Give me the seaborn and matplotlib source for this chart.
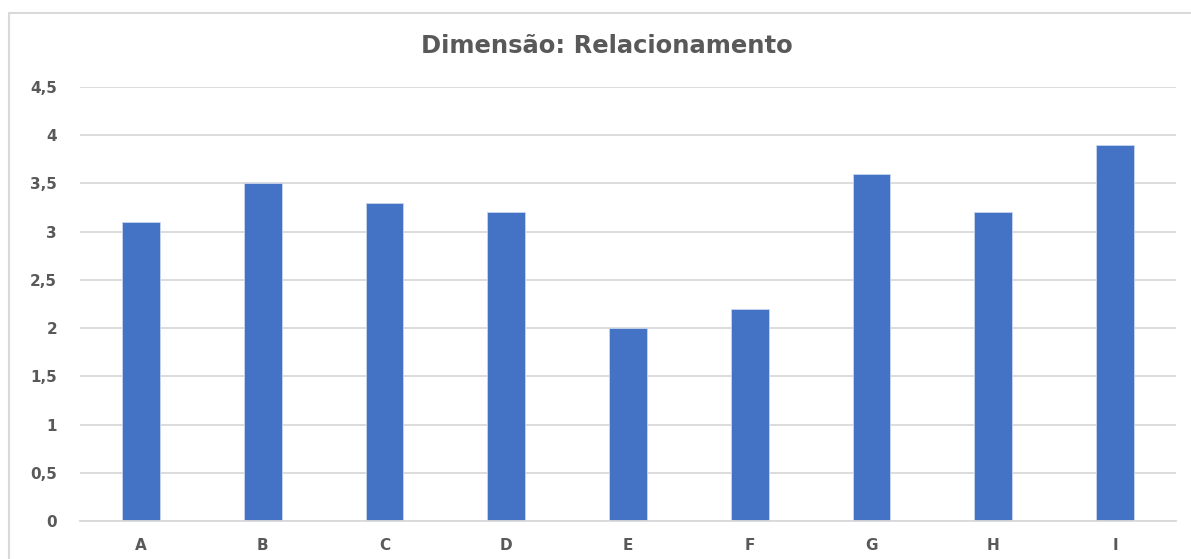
import matplotlib
matplotlib.use("Agg")
import matplotlib.pyplot as plt
import seaborn as sns
import pandas as pd
from matplotlib.patches import Rectangle
from matplotlib.ticker import FuncFormatter

categories = ["A", "B", "C", "D", "E", "F", "G", "H", "I"]
values = [3.1, 3.5, 3.3, 3.2, 2.0, 2.2, 3.6, 3.2, 3.9]
yticks = [0, 0.5, 1, 1.5, 2, 2.5, 3, 3.5, 4, 4.5]
title = "Dimensão: Relacionamento"

sns.set_theme(style="white")
plt.rcParams['font.family'] = ['DejaVu Sans']

df = pd.DataFrame({"cat": categories, "val": values})

fig = plt.figure(figsize=(11.91, 5.59), dpi=100)
ax = fig.add_axes([80/1191, 1-521/559, (1176-80)/1191, (521-87)/559])

sns.barplot(data=df, x="cat", y="val", color="#4472C4", saturation=1,
            width=0.31, ax=ax, edgecolor="#c9d6ee", linewidth=0.6)

ax.set_ylim(0, 4.5)
ax.set_xlim(-0.5, len(categories) - 0.5)
ax.set_yticks(yticks)
ax.yaxis.set_major_formatter(FuncFormatter(lambda v, p: ("%g" % v).replace(".", ",")))
ax.grid(axis="y", color="#d9d9d9", linewidth=1.3)
ax.set_axisbelow(True)
for s in ["top", "right", "left"]:
    ax.spines[s].set_visible(False)
ax.spines["bottom"].set_color("#d9d9d9")
ax.spines["bottom"].set_linewidth(1.3)
ax.set_xlabel("")
ax.set_ylabel("")
ax.tick_params(axis="both", length=0, labelsize=11, labelcolor="#595959")
ax.tick_params(axis="y", pad=16.5)
ax.tick_params(axis="x", pad=12)
for lbl in ax.get_xticklabels() + ax.get_yticklabels():
    lbl.set_fontweight("bold")

fig.text(607/1191, 1-46/559, title, ha="center", va="center",
         fontsize=17.5, fontweight="bold", color="#595959")

fig.patches.append(Rectangle((9/1191, -0.1), 1.2, 1 - 13/559 + 0.1,
                             transform=fig.transFigure, fill=False,
                             edgecolor="#d9d9d9", linewidth=1.5))

fig.savefig("out.png", dpi=100)
